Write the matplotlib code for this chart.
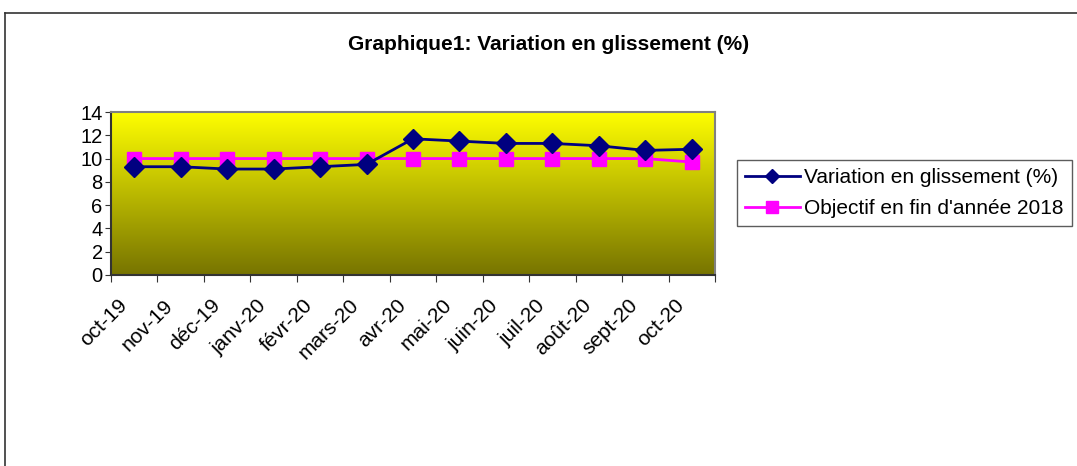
import numpy as np
import matplotlib.pyplot as plt
import matplotlib.transforms as mtransforms
from matplotlib.colors import LinearSegmentedColormap
from matplotlib.lines import Line2D

plt.rcParams['font.family'] = ['Liberation Sans', 'DejaVu Sans']

# donnees
mois = ['oct-19', 'nov-19', 'déc-19', 'janv-20', 'févr-20', 'mars-20', 'avr-20',
        'mai-20', 'juin-20', 'juil-20', 'août-20', 'sept-20', 'oct-20']
variation = [9.3, 9.3, 9.1, 9.1, 9.3, 9.5, 11.7, 11.5, 11.3, 11.3, 11.1, 10.7, 10.8]
objectif = [10, 10, 10, 10, 10, 10, 10, 10, 10, 10, 10, 10, 9.7]

fig = plt.figure(figsize=(10.77, 4.66), dpi=100)

# cadre exterieur
fig.add_artist(Line2D([5/1077, 5/1077], [0, 1 - 13/466], color='#333333', lw=1.2))
fig.add_artist(Line2D([5/1077, 1], [1 - 13/466, 1 - 13/466], color='#333333', lw=1.2))

ax = fig.add_axes([111/1077, 1 - 275/466, 604/1077, 163/466])

x = np.arange(len(mois))
ax.set_xlim(-0.5, len(mois) - 0.5)
ax.set_ylim(0, 14)

# fond degrade jaune -> olive
cmap = LinearSegmentedColormap.from_list('fond', ['#777400', '#FFFF00'])
grad = np.linspace(0, 1, 256).reshape(-1, 1)
ax.imshow(grad, cmap=cmap, aspect='auto', origin='lower',
          extent=[-0.5, len(mois) - 0.5, 0, 14], zorder=0)

l1, = ax.plot(x, variation, color='#000080', lw=2, marker='D', markersize=10.5,
              label='Variation en glissement (%)', zorder=3)
l2, = ax.plot(x, objectif, color='#FF00FF', lw=2, marker='s', markersize=10,
              label="Objectif en fin d'année 2018", zorder=2)

ax.set_yticks(range(0, 15, 2))
ax.set_xticks(np.arange(-0.5, len(mois), 1), minor=False)
ax.set_xticklabels([])
ax.set_xticks(x, minor=True)
ax.set_xticklabels(mois, minor=True, rotation=45, ha='right', rotation_mode='anchor',
                   fontsize=15)
ax.tick_params(axis='x', which='minor', length=0, pad=7)
ax.tick_params(axis='x', which='major', length=5, direction='out', color='#333333')
ax.tick_params(axis='y', labelsize=14.5, length=4, color='#333333', pad=2)

# decalage des etiquettes comme dans Excel
decal = mtransforms.ScaledTranslation(-17/100, -11/100, fig.dpi_scale_trans)
for lab in ax.get_xticklabels(minor=True):
    lab.set_transform(lab.get_transform() + decal)

for s in ax.spines.values():
    s.set_color('#808080')
    s.set_linewidth(1.5)
ax.spines['left'].set_color('#333333')
ax.spines['bottom'].set_color('#333333')

fig.text(549/1077, 1 - 45/466, 'Graphique1: Variation en glissement (%)',
         ha='center', va='center', fontsize=15, fontweight='bold')

h1 = Line2D([], [], color='#000080', lw=2, marker='D', markersize=7)
h2 = Line2D([], [], color='#FF00FF', lw=2, marker='s', markersize=8)
fig.legend([h1, h2], ['Variation en glissement (%)', "Objectif en fin d'année 2018"],
           loc='upper left', bbox_to_anchor=(737/1077, 1 - 160/466),
           fontsize=15, frameon=True, fancybox=False, edgecolor='#333333',
           handlelength=2.6, handletextpad=0.2, borderpad=0.4, labelspacing=0.55,
           borderaxespad=0)

fig.savefig('out.png', dpi=100)
